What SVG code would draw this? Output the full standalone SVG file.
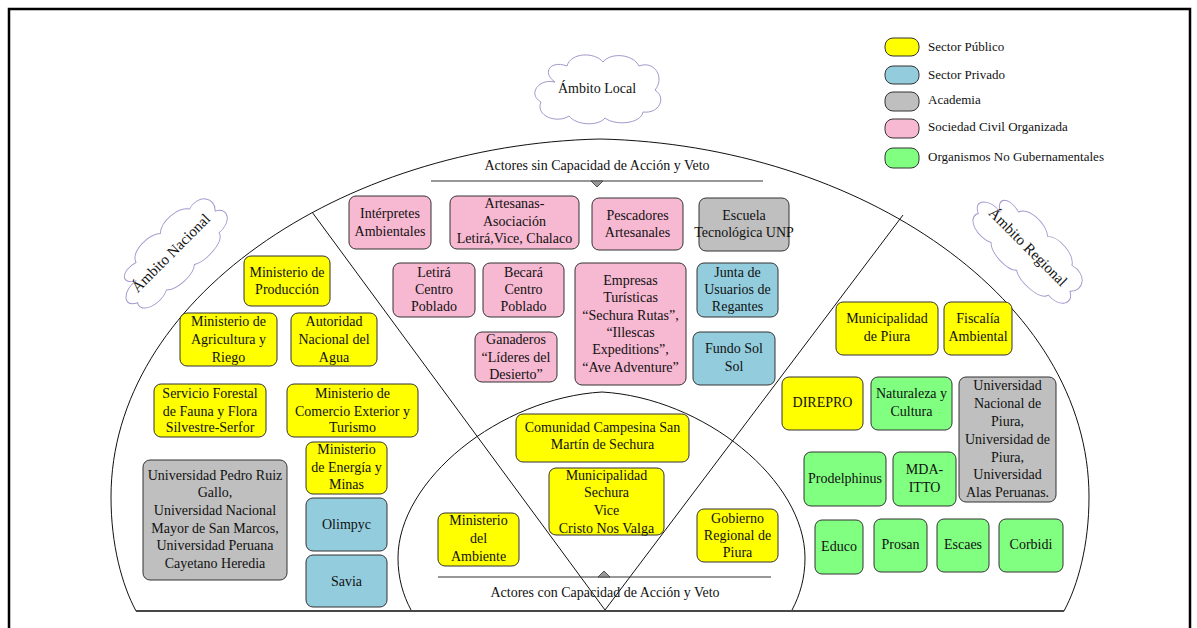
<svg xmlns="http://www.w3.org/2000/svg" width="1197" height="628" viewBox="0 0 1197 628">
  <style>
    .txt { font-family: "Liberation Serif", "Times New Roman", serif; font-size: 14px; fill: #111; text-anchor: middle; }
    .leg { font-family: "Liberation Serif", "Times New Roman", serif; font-size: 13px; fill: #111; }
    .box { stroke: #333; stroke-width: 1; }
    .pub { fill: #ffff00; }
    .pri { fill: #93cddd; }
    .aca { fill: #bfbfbf; }
    .civ { fill: #f7b8d1; }
    .ong { fill: #80ff80; }
    .line { fill: none; stroke: #111; stroke-width: 1; }
    .cloud { fill: #fff; stroke: #a597cc; stroke-width: 1; }
    .tri { fill: #999; stroke: #333; stroke-width: 0.8; }
  </style>
  <defs>
    <path id="cloud" d="M -42,-6 C -58,-10 -70,6 -56,14 C -62,28 -40,36 -28,28 C -20,38 2,38 8,30 C 18,38 44,36 46,24 C 62,26 70,10 58,2 C 68,-10 58,-28 42,-22 C 36,-34 14,-36 6,-26 C -2,-36 -26,-36 -30,-22 C -46,-28 -56,-16 -42,-6 Z"/>
  </defs>

  <rect width="1197" height="628" fill="#fff"/>
  <!-- page frame -->
  <rect x="9" y="9" width="1181" height="660" fill="none" stroke="#000" stroke-width="2.5"/>

  <!-- arena outlines and dividers -->
  <g id="connectors">
    <path class="line" d="M 136,611 C 122,585 111,545 111,497 C 111,300 340,145 600,139 C 860,145 1089,300 1089,497 C 1089,545 1078,585 1064,611 Z"/>
    <path class="line" d="M 411,610 C 403,595 398,578 398,558 C 398,480 500,398 602,392 C 704,398 805,480 805,558 C 805,578 800,595 792,610"/>
    <line class="line" x1="312" y1="212" x2="605" y2="610"/>
    <line class="line" x1="903" y1="215" x2="605" y2="610"/>
    <line x1="136" y1="611" x2="1064" y2="611" stroke="#333" stroke-width="1.4"/>
    <!-- level headings -->
    <line x1="431" y1="181" x2="763" y2="181" stroke="#333" stroke-width="1.2"/>
    <polygon class="tri" points="591,181 603,181 597,187"/>
    <line x1="438" y1="577" x2="771" y2="577" stroke="#333" stroke-width="1.2"/>
    <polygon class="tri" points="598,577 610,577 604,571"/>
  </g>

  <g id="headings">
    <text class="txt" x="597" y="170">Actores sin Capacidad de Acción y Veto</text>
    <text class="txt" x="605" y="597">Actores con Capacidad de Acción y Veto</text>
  </g>

  <!-- scope clouds -->
  <g id="cloud-local">
    <use href="#cloud" class="cloud" transform="translate(597,88)"/>
    <text class="txt" x="597" y="93">Ámbito Local</text>
  </g>
  <g id="cloud-nacional" transform="translate(171,253) rotate(-45)">
    <use href="#cloud" class="cloud" transform="scale(1.05,0.82)"/>
    <text class="txt" x="0" y="5" style="font-size:15px">Ámbito Nacional</text>
  </g>
  <g id="cloud-regional" transform="translate(1028,247) rotate(45)">
    <use href="#cloud" class="cloud" transform="scale(1.05,0.82)"/>
    <text class="txt" x="0" y="5" style="font-size:15px">Ámbito Regional</text>
  </g>

  <!-- legend -->
  <g id="legend">
    <rect class="box pub" x="885" y="38" width="34" height="18" rx="8"/>
    <text class="leg" x="928" y="51">Sector Público</text>
    <rect class="box pri" x="885" y="66" width="34" height="18" rx="8"/>
    <text class="leg" x="928" y="79">Sector Privado</text>
    <rect class="box aca" x="885" y="92" width="34" height="19" rx="8"/>
    <text class="leg" x="928" y="104">Academia</text>
    <rect class="box civ" x="885" y="119" width="34" height="19" rx="8"/>
    <text class="leg" x="928" y="131">Sociedad Civil Organizada</text>
    <rect class="box ong" x="885" y="148" width="34" height="20" rx="8"/>
    <text class="leg" x="928" y="161">Organismos No Gubernamentales</text>
  </g>

  <!-- local scope, no veto -->
  <g id="n-interpretes">
    <rect class="box civ" x="349" y="196" width="82" height="53" rx="7"/>
    <text class="txt"><tspan x="390" y="218">Intérpretes</tspan><tspan x="390" y="236">Ambientales</tspan></text>
  </g>
  <g id="n-artesanas">
    <rect class="box civ" x="450" y="196" width="129" height="53" rx="7"/>
    <text class="txt"><tspan x="514.5" y="208">Artesanas-</tspan><tspan x="514.5" y="226">Asociación</tspan><tspan x="514.5" y="243">Letirá,Vice, Chalaco</tspan></text>
  </g>
  <g id="n-pescadores">
    <rect class="box civ" x="592" y="198" width="91" height="52" rx="7"/>
    <text class="txt"><tspan x="637.5" y="220">Pescadores</tspan><tspan x="637.5" y="237">Artesanales</tspan></text>
  </g>
  <g id="n-escuela">
    <rect class="box aca" x="699" y="198" width="90" height="53" rx="7"/>
    <text class="txt"><tspan x="744" y="220">Escuela</tspan><tspan x="744" y="237">Tecnológica UNP</tspan></text>
  </g>
  <g id="n-letira">
    <rect class="box civ" x="393" y="263" width="82" height="54" rx="7"/>
    <text class="txt"><tspan x="434" y="277">Letirá</tspan><tspan x="434" y="294">Centro</tspan><tspan x="434" y="311">Poblado</tspan></text>
  </g>
  <g id="n-becara">
    <rect class="box civ" x="483" y="263" width="81" height="54" rx="7"/>
    <text class="txt"><tspan x="523.5" y="277">Becará</tspan><tspan x="523.5" y="294">Centro</tspan><tspan x="523.5" y="311">Poblado</tspan></text>
  </g>
  <g id="n-empresas">
    <rect class="box civ" x="575" y="263" width="111" height="122" rx="7"/>
    <text class="txt"><tspan x="630.5" y="285">Empresas</tspan><tspan x="630.5" y="302">Turísticas</tspan><tspan x="630.5" y="320">“Sechura Rutas”,</tspan><tspan x="630.5" y="337">“Illescas</tspan><tspan x="630.5" y="354">Expeditions”,</tspan><tspan x="630.5" y="372">“Ave Adventure”</tspan></text>
  </g>
  <g id="n-junta">
    <rect class="box pri" x="697" y="263" width="81" height="54" rx="7"/>
    <text class="txt"><tspan x="737.5" y="277">Junta de</tspan><tspan x="737.5" y="294">Usuarios de</tspan><tspan x="737.5" y="311">Regantes</tspan></text>
  </g>
  <g id="n-ganaderos">
    <rect class="box civ" x="475" y="332" width="82" height="50" rx="7"/>
    <text class="txt"><tspan x="516" y="344">Ganaderos</tspan><tspan x="516" y="362">“Líderes del</tspan><tspan x="516" y="379">Desierto”</tspan></text>
  </g>
  <g id="n-fundo">
    <rect class="box pri" x="693" y="332" width="82" height="53" rx="7"/>
    <text class="txt"><tspan x="734" y="353">Fundo Sol</tspan><tspan x="734" y="371">Sol</tspan></text>
  </g>

  <!-- national scope -->
  <g id="n-produccion">
    <rect class="box pub" x="244" y="256" width="86" height="50" rx="7"/>
    <text class="txt"><tspan x="287" y="277">Ministerio de</tspan><tspan x="287" y="294">Producción</tspan></text>
  </g>
  <g id="n-agricultura">
    <rect class="box pub" x="180" y="313" width="97" height="53" rx="7"/>
    <text class="txt"><tspan x="228.5" y="326">Ministerio de</tspan><tspan x="228.5" y="344">Agricultura y</tspan><tspan x="228.5" y="362">Riego</tspan></text>
  </g>
  <g id="n-ana">
    <rect class="box pub" x="291" y="313" width="86" height="53" rx="7"/>
    <text class="txt"><tspan x="334" y="326">Autoridad</tspan><tspan x="334" y="344">Nacional del</tspan><tspan x="334" y="362">Agua</tspan></text>
  </g>
  <g id="n-serfor">
    <rect class="box pub" x="154" y="384" width="112" height="53" rx="7"/>
    <text class="txt"><tspan x="210" y="398">Servicio Forestal</tspan><tspan x="210" y="416">de Fauna y Flora</tspan><tspan x="210" y="432">Silvestre-Serfor</tspan></text>
  </g>
  <g id="n-comercio">
    <rect class="box pub" x="287" y="384" width="131" height="53" rx="7"/>
    <text class="txt"><tspan x="352.5" y="398">Ministerio de</tspan><tspan x="352.5" y="416">Comercio Exterior y</tspan><tspan x="352.5" y="432">Turismo</tspan></text>
  </g>
  <g id="n-energia">
    <rect class="box pub" x="306" y="442" width="81" height="52" rx="7"/>
    <text class="txt"><tspan x="346.5" y="454">Ministerio</tspan><tspan x="346.5" y="472">de Energía y</tspan><tspan x="346.5" y="489">Minas</tspan></text>
  </g>
  <g id="n-universidades-lima">
    <rect class="box aca" x="143" y="460" width="144" height="120" rx="7"/>
    <text class="txt"><tspan x="215" y="480">Universidad Pedro Ruiz</tspan><tspan x="215" y="497">Gallo,</tspan><tspan x="215" y="515">Universidad Nacional</tspan><tspan x="215" y="533">Mayor de San Marcos,</tspan><tspan x="215" y="550">Universidad Peruana</tspan><tspan x="215" y="568">Cayetano Heredia</tspan></text>
  </g>
  <g id="n-olimpyc">
    <rect class="box pri" x="306" y="498" width="81" height="53" rx="7"/>
    <text class="txt" x="346.5" y="529">Olimpyc</text>
  </g>
  <g id="n-savia">
    <rect class="box pri" x="306" y="555" width="81" height="52" rx="7"/>
    <text class="txt" x="346.5" y="586">Savia</text>
  </g>

  <!-- veto actors -->
  <g id="n-comunidad">
    <rect class="box pub" x="516" y="414" width="173" height="48" rx="7"/>
    <text class="txt"><tspan x="602.5" y="432">Comunidad Campesina San</tspan><tspan x="602.5" y="449">Martín de Sechura</tspan></text>
  </g>
  <g id="n-muni-sechura">
    <rect class="box pub" x="549" y="468" width="115" height="67" rx="7"/>
    <text class="txt"><tspan x="606.5" y="480">Municipalidad</tspan><tspan x="606.5" y="497">Sechura</tspan><tspan x="606.5" y="515">Vice</tspan><tspan x="606.5" y="533">Cristo Nos Valga</tspan></text>
  </g>
  <g id="n-minam">
    <rect class="box pub" x="438" y="513" width="81" height="53" rx="7"/>
    <text class="txt"><tspan x="478.5" y="525">Ministerio</tspan><tspan x="478.5" y="543">del</tspan><tspan x="478.5" y="561">Ambiente</tspan></text>
  </g>
  <g id="n-gore">
    <rect class="box pub" x="697" y="509" width="81" height="53" rx="7"/>
    <text class="txt"><tspan x="737.5" y="523">Gobierno</tspan><tspan x="737.5" y="540">Regional de</tspan><tspan x="737.5" y="557">Piura</tspan></text>
  </g>

  <!-- regional scope -->
  <g id="n-muni-piura">
    <rect class="box pub" x="836" y="302" width="102" height="53" rx="7"/>
    <text class="txt"><tspan x="887" y="323">Municipalidad</tspan><tspan x="887" y="341">de Piura</tspan></text>
  </g>
  <g id="n-fiscalia">
    <rect class="box pub" x="944" y="302" width="68" height="53" rx="7"/>
    <text class="txt"><tspan x="978" y="323">Fiscalía</tspan><tspan x="978" y="341">Ambiental</tspan></text>
  </g>
  <g id="n-direpro">
    <rect class="box pub" x="782" y="377" width="81" height="53" rx="7"/>
    <text class="txt" x="822.5" y="407">DIREPRO</text>
  </g>
  <g id="n-naturaleza">
    <rect class="box ong" x="871" y="377" width="81" height="53" rx="7"/>
    <text class="txt"><tspan x="911.5" y="398">Naturaleza y</tspan><tspan x="911.5" y="416">Cultura</tspan></text>
  </g>
  <g id="n-universidades-piura">
    <rect class="box aca" x="959" y="377" width="97" height="125" rx="7"/>
    <text class="txt"><tspan x="1007.5" y="390">Universidad</tspan><tspan x="1007.5" y="408">Nacional de</tspan><tspan x="1007.5" y="426">Piura,</tspan><tspan x="1007.5" y="444">Universidad de</tspan><tspan x="1007.5" y="462">Piura,</tspan><tspan x="1007.5" y="479">Universidad</tspan><tspan x="1007.5" y="497">Alas Peruanas.</tspan></text>
  </g>
  <g id="n-prodelphinus">
    <rect class="box ong" x="804" y="452" width="82" height="54" rx="7"/>
    <text class="txt" x="845" y="483">Prodelphinus</text>
  </g>
  <g id="n-mda">
    <rect class="box ong" x="893" y="452" width="63" height="54" rx="7"/>
    <text class="txt"><tspan x="924.5" y="474">MDA-</tspan><tspan x="924.5" y="492">ITTO</tspan></text>
  </g>
  <g id="n-educo">
    <rect class="box ong" x="815" y="520" width="48" height="54" rx="7"/>
    <text class="txt" x="839" y="551">Educo</text>
  </g>
  <g id="n-prosan">
    <rect class="box ong" x="874" y="519" width="53" height="53" rx="7"/>
    <text class="txt" x="900.5" y="549">Prosan</text>
  </g>
  <g id="n-escaes">
    <rect class="box ong" x="937" y="519" width="52" height="53" rx="7"/>
    <text class="txt" x="963" y="549">Escaes</text>
  </g>
  <g id="n-corbidi">
    <rect class="box ong" x="999" y="519" width="64" height="53" rx="7"/>
    <text class="txt" x="1031" y="549">Corbidi</text>
  </g>
</svg>
